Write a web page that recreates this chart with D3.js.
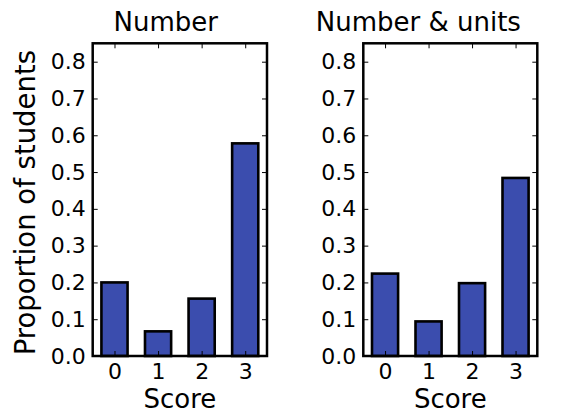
<!DOCTYPE html>
<html>
<head>
<meta charset="utf-8">
<script src="https://cdn.jsdelivr.net/npm/d3@7"></script>
<style>
  html, body { margin: 0; padding: 0; background: #fff; }
  svg { display: block; font-family: "DejaVu Sans", sans-serif; }
</style>
</head>
<body>
<svg id="chart" width="562" height="416"></svg>
<script>
// Score categories and the share of students at each score
const scores = ["0", "1", "2", "3"];
const numberShare = [0.200, 0.067, 0.156, 0.578];
const numberUnitsShare = [0.224, 0.094, 0.198, 0.484];
const panelTitles = ["Number", "Number & units"];
const yTickValues = [0.0, 0.1, 0.2, 0.3, 0.4, 0.5, 0.6, 0.7, 0.8];
const yMax = 0.85;
const xLabel = "Score";
const yLabel = "Proportion of students";

const svg = d3.select("#chart");
const barColor = "#3b4dae";
const tickLen = 5;
const tickFont = 22;

const panels = [
  { left: 92.7, right: 267, title: panelTitles[0], values: numberShare, titleShift: -14 },
  { left: 363.3, right: 537.3, title: panelTitles[1], values: numberUnitsShare, titleShift: -32 }
];
const plotTop = 43.3, plotBottom = 356;

panels.forEach((p) => {
  const x = d3.scaleLinear().domain([-0.5, 3.5]).range([p.left, p.right]);
  const y = d3.scaleLinear().domain([0, yMax]).range([plotBottom, plotTop]);
  const g = svg.append("g");

  // bars (width 0.6 centred on each score)
  g.selectAll("rect.bar").data(p.values).join("rect")
    .attr("class", "bar")
    .attr("x", (d, j) => x(j - 0.3))
    .attr("width", x(0.6) - x(0))
    .attr("y", d => y(d))
    .attr("height", d => y(0) - y(d))
    .attr("fill", barColor)
    .attr("stroke", "#000")
    .attr("stroke-width", 2.6);

  // bottom axis with inward ticks
  const xAxis = d3.axisBottom(x).tickValues([0, 1, 2, 3])
    .tickFormat((d) => scores[d]).tickSizeInner(-tickLen).tickSizeOuter(0).tickPadding(7);
  const gx = g.append("g").attr("transform", `translate(0,${plotBottom})`).call(xAxis);
  gx.select(".domain").remove();
  gx.selectAll("line").attr("stroke", "#000").attr("stroke-width", 1);
  gx.selectAll("text").attr("font-size", tickFont).attr("fill", "#000")
    .attr("font-family", "DejaVu Sans");

  // top ticks
  g.append("g").attr("transform", `translate(0,${plotTop})`)
    .call(d3.axisTop(x).tickValues([0, 1, 2, 3]).tickSizeInner(-tickLen).tickSizeOuter(0).tickFormat(""))
    .call(s => s.select(".domain").remove())
    .selectAll("line").attr("stroke", "#000");

  // left axis with inward ticks
  const yAxis = d3.axisLeft(y).tickValues(yTickValues).tickFormat(d3.format(".1f"))
    .tickSizeInner(-tickLen).tickSizeOuter(0).tickPadding(7);
  const gy = g.append("g").attr("transform", `translate(${p.left},0)`).call(yAxis);
  gy.select(".domain").remove();
  gy.selectAll("line").attr("stroke", "#000");
  gy.selectAll("text").attr("font-size", tickFont).attr("fill", "#000")
    .attr("font-family", "DejaVu Sans");

  // right ticks
  g.append("g").attr("transform", `translate(${p.right},0)`)
    .call(d3.axisRight(y).tickValues(yTickValues).tickSizeInner(-tickLen).tickSizeOuter(0).tickFormat(""))
    .call(s => s.select(".domain").remove())
    .selectAll("line").attr("stroke", "#000");

  // frame
  g.append("rect")
    .attr("x", p.left).attr("y", plotTop)
    .attr("width", p.right - p.left).attr("height", plotBottom - plotTop)
    .attr("fill", "none").attr("stroke", "#000").attr("stroke-width", 2.5);

  // title
  g.append("text")
    .attr("x", (p.left + p.right) / 2 + p.titleShift).attr("y", 31)
    .attr("text-anchor", "middle").attr("font-size", 26).attr("fill", "#000")
    .text(p.title);

  // x label
  g.append("text")
    .attr("x", (p.left + p.right) / 2).attr("y", 408)
    .attr("text-anchor", "middle").attr("font-size", 26).attr("fill", "#000")
    .text(xLabel);
});

// shared y label
svg.append("text")
  .attr("transform", `translate(35,${(plotTop + plotBottom) / 2 + 3}) rotate(-90)`)
  .attr("text-anchor", "middle").attr("font-size", 27.5).attr("fill", "#000")
  .text(yLabel);
</script>
</body>
</html>
